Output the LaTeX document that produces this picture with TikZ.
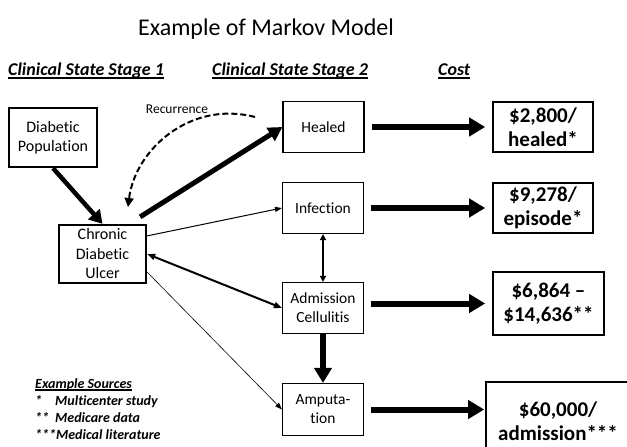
\documentclass[tikz,border=0pt]{standalone}
\usepackage{fontspec}
\setmainfont[Ligatures=NoCommon]{Carlito}
\usetikzlibrary{arrows.meta,calc}
\begin{document}
\begin{tikzpicture}[x=1pt,y=-1pt,
  thickbox/.style={draw, line width=2.3pt, align=center, inner sep=1pt, font=\fontsize{16}{19.5}\selectfont},
  statebox/.style={draw, line width=1.1pt, align=center, inner sep=1pt, minimum width=81pt, minimum height=51pt, font=\fontsize{15.5}{19}\selectfont},
  costbox/.style={draw, line width=1.6pt, align=center, inner sep=1pt, font=\bfseries\fontsize{21}{24}\selectfont},
  header/.style={inner sep=0pt, anchor=base west, font=\bfseries\itshape\fontsize{18}{21}\selectfont},
  srctext/.style={inner sep=0pt, anchor=base west, font=\bfseries\itshape\fontsize{14}{17}\selectfont},
  bigarrow/.style={line width=6pt, -{Triangle[length=16pt,width=18pt]}},
  thinarrow/.style={line width=1pt, -{Triangle[length=7pt,width=5pt]}}
]
\useasboundingbox (0,0) rectangle (627,447);
\clip (0,0) rectangle (627,447);

% title and headers
\node[inner sep=0pt, anchor=base, font=\fontsize{24}{28}\selectfont] (title) at (266,35) {Example of Markov Model};
\node[header] (h1) at (8,75) {Clinical State Stage 1};
\node[header] (h2) at (212,75) {Clinical State Stage 2};
\node[header] (h3) at (438,75) {Cost};
\foreach \h in {h1,h2,h3}{
  \draw[line width=1.6pt] ([yshift=-3pt]\h.base west) -- ([yshift=-3pt]\h.base east);
}

% stage 1
\node[thickbox, minimum width=88pt, minimum height=59pt] (pop) at (53,137.5) {Diabetic\\Population};
\node[thickbox, minimum width=87pt, minimum height=58pt] (ulcer) at (102.5,254) {Chronic\\Diabetic\\Ulcer};

% stage 2
\node[statebox] (healed) at (323.5,127) {Healed};
\node[statebox] (infect) at (323,208) {Infection};
\node[statebox] (admit) at (323,308) {Admission\\Cellulitis};
\node[statebox, minimum height=52pt] (amput) at (323,409.5) {Amputa-\\tion};

% costs
\node[costbox, minimum width=100pt, minimum height=50pt] (c1) at (543,127) {\$2,800/\\healed*};
\node[costbox, minimum width=100pt, minimum height=50pt] (c2) at (543,208) {\$9,278/\\episode*};
\node[costbox, minimum width=111pt, minimum height=63pt] (c3) at (548.5,303.5) {\$6,864 --\\\$14,636**};
\node[costbox, minimum width=144pt, minimum height=78pt] (c4) at (558,421) {\$60,000/\\admission***};

% recurrence
\node[inner sep=0pt, anchor=base, font=\fontsize{13.5}{16}\selectfont] (rec) at (177,113) {Recurrence};
\coordinate (rs) at (255,117);
\coordinate (re) at (128,207);
\draw[line width=2pt, dash pattern=on 6pt off 3pt, -{Triangle[length=9pt,width=9pt]}] (rs) .. controls (190,100) and (135,150) .. (re);

% arrows
\draw[line width=4.5pt, -{Triangle[length=13pt,width=15pt]}] (pop.south) -- (ulcer.north);
\draw[line width=5pt, -{Triangle[length=14pt,width=15pt]}] ([shift={(-7,-7)}]ulcer.north east) -- (healed.west);
\draw[thinarrow] ($(ulcer.north east)!0.2!(ulcer.south east)$) -- (infect.west);
\draw[line width=2pt, {Triangle[length=8pt,width=6pt]}-{Triangle[length=8pt,width=6pt]}] (ulcer.east) -- (admit.west);
\draw[line width=0.6pt, -{Triangle[length=7pt,width=5pt]}] ($(ulcer.north east)!0.8!(ulcer.south east)$) -- (amput.west);
\draw[line width=2pt, {Triangle[length=6pt,width=6pt]}-{Triangle[length=6pt,width=6pt]}] (infect.south) -- (admit.north);
\draw[line width=5.5pt, -{Triangle[length=15pt,width=17pt]}] (admit.south) -- (amput.north);

\draw[bigarrow] ([xshift=7pt]healed.east) -- ([xshift=-7pt]c1.west);
\draw[bigarrow] ([xshift=7pt]infect.east) -- ([xshift=-7pt]c2.west);
\draw[bigarrow] ($(admit.east |- c3.west)+(7,0)$) -- ([xshift=-7pt]c3.west);
\draw[bigarrow, shorten >=1pt] ($(amput.east)+(7,0)$) -- (amput.east -| c4.west);

% sources
\node[srctext] (s0) at (35,388) {Example Sources};
\draw[line width=1.1pt] ([yshift=-2pt]s0.base west) -- ([yshift=-2pt]s0.base east);
\node[srctext] (s1a) at (35,405) {*};
\node[srctext] (s1b) at (55,405) {Multicenter study};
\node[srctext] (s2a) at (35,422) {**};
\node[srctext] (s2b) at (55,422) {Medicare data};
\node[srctext] (s3) at (35,439) {***Medical literature};
\end{tikzpicture}
\end{document}
